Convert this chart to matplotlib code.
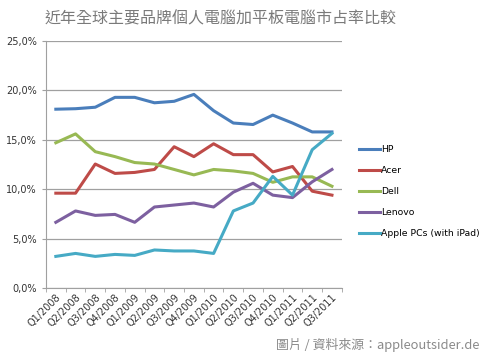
# coding=utf-8
import numpy as np
import matplotlib
matplotlib.use('Agg')
import matplotlib.pyplot as plt
from matplotlib.ticker import FuncFormatter, FixedLocator

plt.rcParams['font.family'] = ['DejaVu Sans', 'Noto Sans CJK TC']

quarters = ['Q1/2008', 'Q2/2008', 'Q3/2008', 'Q4/2008', 'Q1/2009', 'Q2/2009', 'Q3/2009',
            'Q4/2009', 'Q1/2010', 'Q2/2010', 'Q3/2010', 'Q4/2010', 'Q1/2011', 'Q2/2011', 'Q3/2011']
hp = [18.1, 18.15, 18.3, 19.3, 19.3, 18.75, 18.9, 19.6, 17.95, 16.7, 16.55, 17.5, 16.7, 15.8, 15.8]
acer = [9.6, 9.6, 12.55, 11.6, 11.7, 12.0, 14.3, 13.3, 14.6, 13.5, 13.5, 11.75, 12.3, 9.8, 9.4]
dell = [14.7, 15.6, 13.8, 13.3, 12.7, 12.55, 12.0, 11.45, 12.0, 11.85, 11.6, 10.7, 11.25, 11.25, 10.3]
lenovo = [6.65, 7.8, 7.35, 7.45, 6.65, 8.2, 8.4, 8.6, 8.2, 9.7, 10.6, 9.4, 9.15, 10.75, 12.0]
apple = [3.2, 3.5, 3.2, 3.4, 3.3, 3.85, 3.75, 3.75, 3.5, 7.8, 8.6, 11.3, 9.4, 14.0, 15.65]

series = [('HP', hp, '#4a7ebb'), ('Acer', acer, '#be4b48'), ('Dell', dell, '#98b954'),
          ('Lenovo', lenovo, '#7d60a0'), ('Apple PCs (with iPad)', apple, '#46aac5')]

fig = plt.figure(figsize=(4.89, 3.6), dpi=100)
ax = fig.add_axes([0.094, 0.2, 0.605, 0.686])

x = np.arange(len(quarters))
for name, vals, c in series:
    ax.plot(x, vals, color=c, lw=2.2, label=name, solid_joinstyle='round')

ax.set_xlim(-0.5, len(quarters) - 0.5)
ax.set_ylim(0, 25)
ax.set_yticks([0, 5, 10, 15, 20, 25])
ax.yaxis.set_major_formatter(FuncFormatter(lambda v, p: ('%.1f%%' % v).replace('.', ',')))
ax.grid(axis='y', color='#a0a0a0', lw=0.9)
ax.set_axisbelow(True)
for s in ['top', 'right']:
    ax.spines[s].set_visible(False)
ax.spines['left'].set_color('#a0a0a0')
ax.spines['bottom'].set_color('#a0a0a0')

ax.set_xticks(x)
ax.set_xticklabels(quarters, rotation=45, ha='right', rotation_mode='anchor', fontsize=7, color='#333333')
ax.tick_params(axis='x', which='major', length=0, pad=3)
ax.xaxis.set_minor_locator(FixedLocator(np.arange(-0.5, len(quarters), 1.0)))
ax.tick_params(axis='x', which='minor', length=3, color='#a0a0a0')
ax.tick_params(axis='y', labelsize=7, length=3, color='#a0a0a0', labelcolor='#333333')

ax.legend(loc='center left', bbox_to_anchor=(1.03, 0.39), frameon=False, fontsize=6.7,
          handlelength=2.3, handletextpad=0.1, labelspacing=1.3)

fig.text(0.092, 0.935, '近年全球主要品牌個人電腦加平板電腦市占率比較', fontsize=11.5, color='#7a7a7a',
         family=['Noto Sans CJK TC', 'DejaVu Sans'])
fig.text(0.98, 0.03, '圖片 / 資料來源：appleoutsider.de', fontsize=9.3, color='#8a8a8a', ha='right',
         family=['Noto Sans CJK TC', 'DejaVu Sans'])

fig.savefig('out.png', dpi=100)
